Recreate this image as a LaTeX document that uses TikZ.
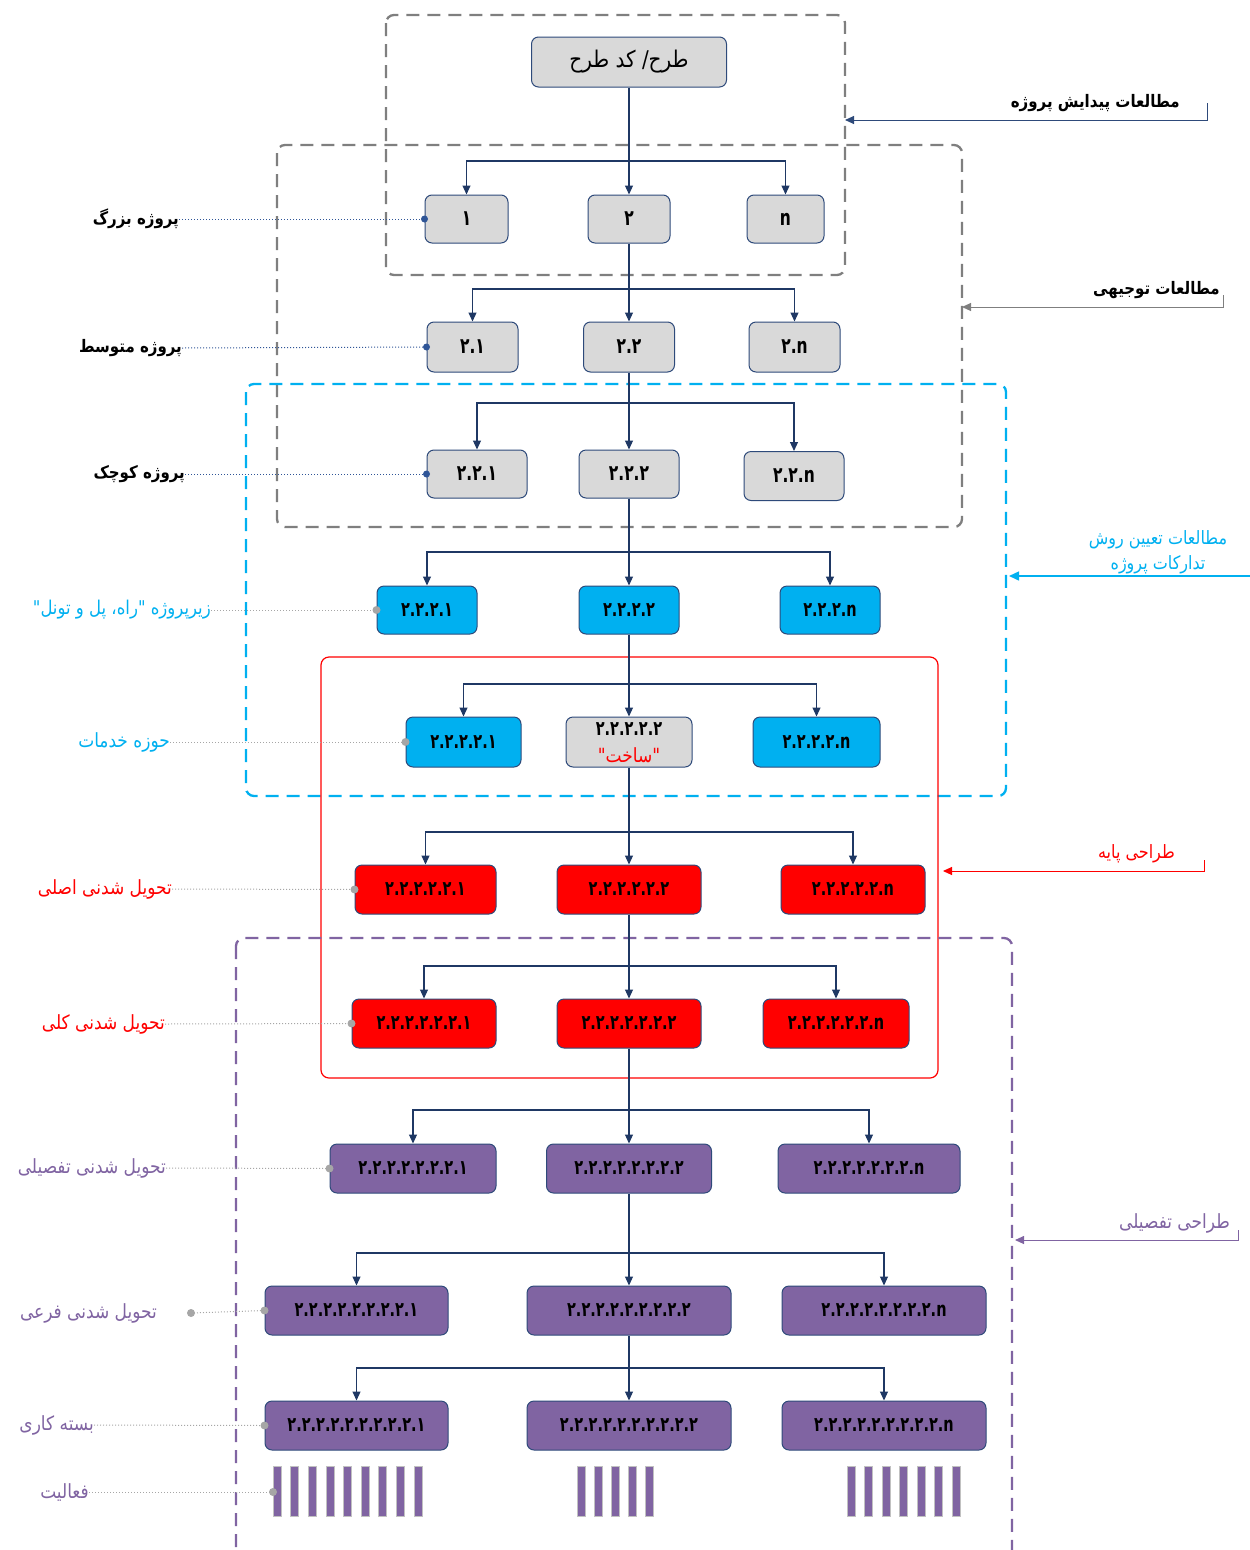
\documentclass[tikz,border=0pt]{standalone}
\usepackage{fontspec}
\usepackage{graphicx}
\TeXXeTstate=1
\newfontfamily\ar[Script=Arabic]{DejaVu Sans}
\newcommand\AR[1]{\scalebox{1}[1.15]{\ar\beginR #1\endR}}
\newcommand\num[1]{\scalebox{1}[1.4]{#1}}
\usetikzlibrary{arrows.meta}
\definecolor{boxgray}{HTML}{D9D9D9}
\definecolor{navy}{HTML}{1F3864}
\definecolor{edgec}{HTML}{2E4A7A}
\definecolor{cyanC}{HTML}{00B0F0}
\definecolor{purp}{HTML}{8064A2}
\definecolor{dgray}{HTML}{7F7F7F}
\definecolor{lgray}{HTML}{A6A6A6}
\definecolor{dblue}{HTML}{2F5597}
\definecolor{redC}{HTML}{FF0000}
\newcommand\bx[7]{\node[#2,minimum width=#5pt,minimum height=#6pt] (#1) at (#3,#4) {\num{#7}};}
\tikzset{
  box/.style={draw=edgec, line width=1pt, rounded corners=7pt, inner sep=0pt, align=center,
    font=\ar\bfseries\fontsize{14.5}{15}\selectfont, text=black},
  bigbox/.style={font=\ar\bfseries\fontsize{15.5}{16}\selectfont},
  gbox/.style={box, fill=boxgray},
  cbox/.style={box, fill=cyanC},
  rbox/.style={box, fill=redC},
  pbox/.style={box, fill=purp},
  conn/.style={draw=navy, line width=1.1pt, -{Triangle[width=8pt,length=9pt]}},
  trunk/.style={draw=navy, line width=1.1pt},
  lab/.style={font=\ar\bfseries\fontsize{15}{17}\selectfont, inner sep=0pt},
  labn/.style={font=\ar\fontsize{17}{19}\selectfont, inner sep=0pt},
  dotb/.style={draw=dblue, line width=1pt, dotted},
  dotg/.style={draw=lgray, line width=1pt, dotted},
  region/.style={rounded corners=8pt, line width=2.3pt, dash pattern=on 13pt off 8pt},
}
\begin{document}
\begin{tikzpicture}[x=1pt,y=-1pt]
\useasboundingbox (0,0) rectangle (1250,1550);
\clip (0,0) rectangle (1250,1550);
% regions
\draw[region, draw=dgray] (386,15) rectangle (845,275);
\draw[region, draw=dgray] (277,145) rectangle (962,527);
\draw[region, draw=cyanC] (246,384) rectangle (1006,796);
\draw[draw=redC, line width=1.2pt, rounded corners=8pt] (321,657) rectangle (938,1078);
\draw[region, draw=purp] (236,938) rectangle (1012,1600);

% nodes
\node[gbox, font=\ar\fontsize{20}{22}\selectfont, minimum width=195pt, minimum height=50pt] (top) at (629,62) {\AR{طرح/ کد طرح}};
\bx{a1}{gbox,bigbox}{466.5}{219}{83}{48}{۱}
\bx{a2}{gbox,bigbox}{629}{219}{82}{48}{۲}
\bx{a3}{gbox,bigbox}{785.5}{219}{77}{48}{n}
\bx{b1}{gbox,bigbox}{472.5}{347}{91}{50}{۲.۱}
\bx{b2}{gbox,bigbox}{629}{347}{91}{50}{۲.۲}
\bx{b3}{gbox,bigbox}{794.5}{347}{91}{50}{۲.n}
\bx{c1}{gbox,bigbox}{477}{474}{100}{48}{۲.۲.۱}
\bx{c2}{gbox,bigbox}{629}{474}{100}{48}{۲.۲.۲}
\bx{c3}{gbox,bigbox}{794}{476}{100}{49}{۲.۲.n}
\bx{d1}{cbox}{427}{610}{100}{48}{۲.۲.۲.۱}
\bx{d2}{cbox}{629}{610}{100}{48}{۲.۲.۲.۲}
\bx{d3}{cbox}{830}{610}{100}{48}{۲.۲.۲.n}
\bx{e1}{cbox}{463.5}{742}{115}{50}{۲.۲.۲.۲.۱}
\node[gbox, minimum width=126pt, minimum height=50pt] (e2) at (629,742) {};
\node[font=\ar\bfseries\fontsize{14.5}{15}\selectfont, inner sep=0pt] (e2a) at (629,729) {\num{۲.۲.۲.۲.۲}};
\node[font=\ar\fontsize{17}{18}\selectfont, text=redC, inner sep=0pt] (e2b) at (629,755) {\AR{"ساخت"}};
\bx{e3}{cbox}{816.5}{742}{127}{50}{۲.۲.۲.۲.n}
\bx{f1}{rbox}{425.5}{889.5}{141}{49}{۲.۲.۲.۲.۲.۱}
\bx{f2}{rbox}{629}{889.5}{144}{49}{۲.۲.۲.۲.۲.۲}
\bx{f3}{rbox}{853}{889.5}{144}{49}{۲.۲.۲.۲.۲.n}
\bx{g1}{rbox}{424}{1023.5}{144}{49}{۲.۲.۲.۲.۲.۲.۱}
\bx{g2}{rbox}{629}{1023.5}{144}{49}{۲.۲.۲.۲.۲.۲.۲}
\bx{g3}{rbox}{836}{1023.5}{146}{49}{۲.۲.۲.۲.۲.۲.n}
\bx{h1}{pbox}{413}{1168.5}{166}{49}{۲.۲.۲.۲.۲.۲.۲.۱}
\bx{h2}{pbox}{629}{1168.5}{165}{49}{۲.۲.۲.۲.۲.۲.۲.۲}
\bx{h3}{pbox}{869}{1168.5}{182}{49}{۲.۲.۲.۲.۲.۲.۲.n}
\bx{i1}{pbox}{356.5}{1310.5}{183}{49}{۲.۲.۲.۲.۲.۲.۲.۲.۱}
\bx{i2}{pbox}{629}{1310.5}{204}{49}{۲.۲.۲.۲.۲.۲.۲.۲.۲}
\bx{i3}{pbox}{884}{1310.5}{204}{49}{۲.۲.۲.۲.۲.۲.۲.۲.n}
\bx{k1}{pbox}{356.5}{1425.5}{183}{49}{۲.۲.۲.۲.۲.۲.۲.۲.۲.۱}
\bx{k2}{pbox}{629}{1425.5}{204}{49}{۲.۲.۲.۲.۲.۲.۲.۲.۲.۲}
\bx{k3}{pbox}{884}{1425.5}{204}{49}{۲.۲.۲.۲.۲.۲.۲.۲.۲.n}

% connectors
\coordinate (j1) at (629,161);
\coordinate (j2) at (629,289);
\coordinate (j3) at (629,403);
\coordinate (j4) at (629,552);
\coordinate (j5) at (629,684);
\coordinate (j6) at (629,832);
\coordinate (j7) at (629,966);
\coordinate (j8) at (629,1110);
\coordinate (j9) at (629,1253);
\coordinate (j10) at (629,1368);
\foreach \p/\j/\l/\m/\r in {top/j1/a1/a2/a3, a2/j2/b1/b2/b3, b2/j3/c1/c2/c3, c2/j4/d1/d2/d3,
  d2/j5/e1/e2/e3, e2/j6/f1/f2/f3, f2/j7/g1/g2/g3, g2/j8/h1/h2/h3, h2/j9/i1/i2/i3, i2/j10/k1/k2/k3}{
  \draw[trunk] (\p.south) -- (\j);
  \draw[conn] (\j) -- (\m.north);
  \draw[conn] (\j) -| (\l.north);
  \draw[conn] (\j) -| (\r.north);
}

% activity bars
\foreach \i in {0,...,8} \filldraw[fill=purp, draw=lgray!70, line width=0.4pt] (273+\i*17.6,1466) rectangle ++(8,50);
\foreach \i in {0,...,4} \filldraw[fill=purp, draw=lgray!70, line width=0.4pt] (577+\i*17,1466) rectangle ++(8,50);
\foreach \i in {0,...,6} \filldraw[fill=purp, draw=lgray!70, line width=0.4pt] (847+\i*17.5,1466) rectangle ++(8,50);
\coordinate (act) at (273,1492);

% left labels
\node[lab, anchor=east] (L1) at (179,219) {\AR{پروژه بزرگ}};
\node[lab, anchor=east] (L2) at (182,348) {\AR{پروژه متوسط}};
\node[lab, anchor=east] (L3) at (185,474) {\AR{پروژه کوچک}};
\node[labn, anchor=east, text=cyanC, font=\ar\fontsize{16.5}{18}\selectfont] (L4) at (211,610) {\AR{زیرپروژه "راه، پل و تونل"}};
\node[labn, anchor=east, text=cyanC] (L5) at (170,742) {\AR{حوزه خدمات}};
\node[labn, anchor=east, text=redC] (L6) at (172,889) {\AR{تحویل شدنی اصلی}};
\node[labn, anchor=east, text=redC] (L7) at (165,1024) {\AR{تحویل شدنی کلی}};
\node[labn, anchor=east, text=purp] (L8) at (166,1168) {\AR{تحویل شدنی تفصیلی}};
\node[labn, anchor=east, text=purp] (L9) at (157,1313) {\AR{تحویل شدنی فرعی}};
\node[labn, anchor=east, text=purp] (L10) at (94,1425) {\AR{بسته کاری}};
\node[labn, anchor=east, text=purp] (L11) at (89,1492) {\AR{فعالیت}};
\coordinate (L9d) at (191,1313);

\draw[dotb] (L1.east) -- (a1.west); \fill[dblue] (a1.west) circle (3.5);
\draw[dotb] (L2.east) -- (b1.west); \fill[dblue] (b1.west) circle (3.5);
\draw[dotb] (L3.east) -- (c1.west); \fill[dblue] (c1.west) circle (3.5);
\draw[dotg] (L4.east) -- (d1.west); \fill[lgray] (d1.west) circle (4);
\draw[dotg] (L5.east) -- (e1.west); \fill[lgray] (e1.west) circle (4);
\draw[dotg] (L6.east) -- (f1.west); \fill[lgray] (f1.west) circle (4);
\draw[dotg] (L7.east) -- (g1.west); \fill[lgray] (g1.west) circle (4);
\draw[dotg] (L8.east) -- (h1.west); \fill[lgray] (h1.west) circle (4);
\draw[dotg] (L9d) -- (i1.west); \fill[lgray] (i1.west) circle (4); \fill[lgray] (L9d) circle (4);
\draw[dotg] (L10.east) -- (k1.west); \fill[lgray] (k1.west) circle (4);
\draw[dotg] (L11.east) -- (act); \fill[lgray] (act) circle (4);

% right labels
\node[lab, anchor=east] (R1) at (1180,103) {\AR{مطالعات پیدایش پروژه}};
\node[lab, anchor=east] (R2) at (1220,290) {\AR{مطالعات توجیهی}};
\node[text=cyanC, align=center, inner sep=0pt, font=\ar\fontsize{16}{25}\selectfont] (R3) at (1158,552) {\AR{مطالعات تعیین روش}\\\AR{تدارکات پروژه}};
\node[labn, anchor=east, text=redC, font=\ar\fontsize{16}{18}\selectfont] (R4) at (1175,854) {\AR{طراحی پایه}};
\node[labn, anchor=east, text=purp] (R5) at (1230,1223) {\AR{طراحی تفصیلی}};

\coordinate (R1s) at (1207,103); \coordinate (R1t) at (845,120);
\coordinate (R2s) at (1223,295); \coordinate (R2t) at (962,307);
\coordinate (R3s) at (1250,576); \coordinate (R3t) at (1009,576);
\coordinate (R4s) at (1204,860); \coordinate (R4t) at (943,871);
\coordinate (R5s) at (1238,1230); \coordinate (R5t) at (1015,1240);
\draw[draw=edgec, line width=1pt, -{Triangle[width=8pt,length=9pt]}] (R1s) |- (R1t);
\draw[draw=dgray, line width=1pt, -{Triangle[width=8pt,length=9pt]}] (R2s) |- (R2t);
\draw[draw=cyanC, line width=1.5pt, -{Triangle[width=9pt,length=10pt]}] (R3s) -- (R3t);
\draw[draw=redC, line width=1pt, -{Triangle[width=8pt,length=9pt]}] (R4s) |- (R4t);
\draw[draw=purp, line width=1pt, -{Triangle[width=8pt,length=9pt]}] (R5s) |- (R5t);
\end{tikzpicture}
\end{document}
